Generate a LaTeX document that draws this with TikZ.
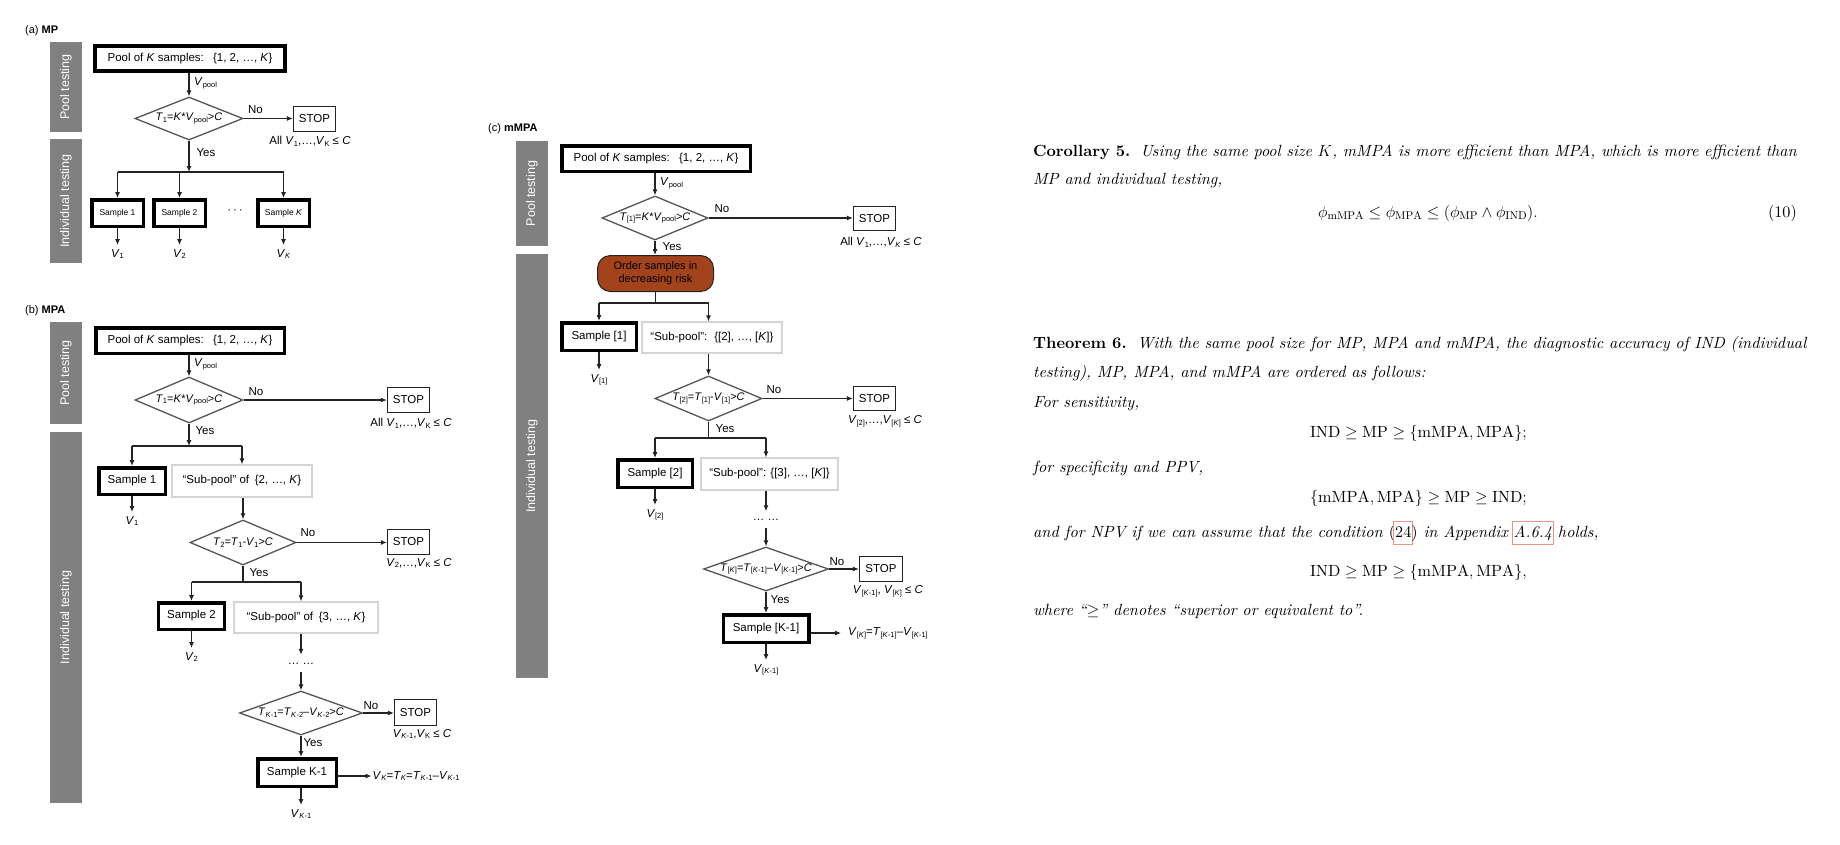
\RequirePackage{fix-cm}
\documentclass[tikz,border=0pt]{standalone}
\usepackage{fontspec}
\usepackage{graphicx}
\usetikzlibrary{shapes.geometric,arrows.meta}
\setmainfont{lmroman10-regular.otf}[BoldFont=lmroman10-bold.otf, ItalicFont=lmroman10-italic.otf, BoldItalicFont=lmroman10-bolditalic.otf]
\newfontfamily\hv{Liberation Sans}
\definecolor{barg}{RGB}{128,128,128}
\definecolor{brn}{RGB}{163,67,28}
\definecolor{dg}{RGB}{85,85,85}
\definecolor{lg}{RGB}{212,212,212}
\definecolor{lnc}{RGB}{35,35,35}
\definecolor{linkred}{RGB}{232,150,130}
\newcommand\sbx[1]{\raisebox{-0.3ex}{\fontsize{7.5}{8}\selectfont #1}}
\newcommand\lnk[1]{\makebox[0pt][l]{\hspace{-1.8pt}\textcolor{linkred}{\setlength{\fboxsep}{1pt}\setlength{\fboxrule}{0.8pt}\fbox{\phantom{\strut #1}}}}#1}
\begin{document}
\begin{tikzpicture}[x=1pt,y=-1pt,
  ff/.style={font=\hv\fontsize{11.5}{13.5}\selectfont},
  df/.style={font=\hv\fontsize{11}{13}\selectfont},
  sf/.style={font=\hv\fontsize{8.5}{10}\selectfont},
  thickbox/.style={draw=black, line width=3.5pt, inner sep=0pt, align=center},
  stopbox/.style={draw=lnc, line width=1.2pt, inner sep=0pt, minimum width=42pt, minimum height=25pt, ff},
  subbox/.style={draw=lg, line width=1.2pt, inner sep=0pt, ff},
  dia/.style={diamond, draw=dg, line width=1.3pt, inner sep=0pt, df},
  bar/.style={fill=barg, rotate=90, inner sep=0pt, minimum height=32pt, text=white, font=\hv\fontsize{12.5}{14}\selectfont},
  arr/.style={draw=lnc, line width=1.1pt, -{Latex[length=6pt,width=5pt]}},
  ln/.style={draw=lnc, line width=1.1pt},
  lbl/.style={inner sep=0pt, ff},
  vl/.style={inner sep=4pt, anchor=north, ff},
  rt/.style={inner sep=0pt, anchor=base west, font=\fontsize{16.2}{20}\selectfont},
  ]
\useasboundingbox (0,0) rectangle (1840,844);
\fill[white] (0,0) rectangle (1840,844);

% ================= (a) MP =================
\node[lbl, anchor=base west, font=\hv\fontsize{11}{13}\selectfont] (labA) at (25,33) {(a) \textbf{MP}};
\node[bar, minimum width=90pt] (barA1) at (66,87) {Pool testing};
\node[bar, minimum width=124pt] (barA2) at (66,201) {Individual testing};
\node[thickbox, ff, minimum width=190pt, minimum height=25pt] (poolA) at (190,58.5) {Pool of \textit{K} samples:\hspace{0.8em}\{1, 2, …, \textit{K}\}};
\node[dia, aspect=2.51, minimum width=108pt, minimum height=43pt] (diaA) at (189,118.5) {\textit{T}\sbx{1}=\textit{K}*\textit{V}\sbx{pool}>\textit{C}};
\draw[arr] (diaA.north |- poolA.south) -- (diaA.north);
\node[lbl, anchor=west] (vpA) at (194,83) {\textit{V}\sbx{pool}};
\node[stopbox] (stopA) at (314.5,119) {STOP};
\draw[arr] (diaA.east) -- (diaA.east -| stopA.west);
\node[lbl] (noA) at (255.5,110) {No};
\node[lbl] (allA) at (310,141) {All \textit{V}\sbx{1},…,\textit{V}\sbx{K} ≤ \textit{C}};
\coordinate (brA) at (189,172);
\draw[arr] (diaA.south) -- (brA);
\node[lbl] (yesA) at (206,153) {Yes};
\node[thickbox, sf, minimum width=51.5pt, minimum height=26.5pt] (sA1) at (117.5,213) {Sample 1};
\node[thickbox, sf, minimum width=51.5pt, minimum height=26.5pt] (sA2) at (179.5,213) {Sample 2};
\node[thickbox, sf, minimum width=51.5pt, minimum height=26.5pt] (sAK) at (283.5,213) {Sample \textit{K}};
\node[lbl] (dotsA) at (235,212) {·\,·\,·};
\draw[ln] (sA1.north |- brA) -- (sAK.north |- brA);
\foreach \s in {sA1,sA2,sAK} \draw[arr] (\s.north |- brA) -- (\s.north);
\node[vl] (vA1) at (117.5,245) {\textit{V}\sbx{1}};
\node[vl] (vA2) at (179.5,245) {\textit{V}\sbx{2}};
\node[vl] (vAK) at (283.5,245) {\textit{V}\sbx{\textit{K}}};
\draw[arr] (sA1) -- (vA1);
\draw[arr] (sA2) -- (vA2);
\draw[arr] (sAK) -- (vAK);

% ================= (b) MPA =================
\node[lbl, anchor=base west, font=\hv\fontsize{11}{13}\selectfont] (labB) at (25,313) {(b) \textbf{MPA}};
\node[bar, minimum width=102pt] (barB1) at (66,373) {Pool testing};
\node[bar, minimum width=371pt] (barB2) at (66,617.5) {Individual testing};
\node[thickbox, ff, minimum width=188.5pt, minimum height=25.5pt] (poolB) at (190,340.5) {Pool of \textit{K} samples:\hspace{0.8em}\{1, 2, …, \textit{K}\}};
\node[dia, aspect=2.35, minimum width=108pt, minimum height=46pt] (diaB1) at (189,400) {\textit{T}\sbx{1}=\textit{K}*\textit{V}\sbx{pool}>\textit{C}};
\draw[arr] (diaB1.north |- poolB.south) -- (diaB1.north);
\node[lbl, anchor=west] (vpB) at (194,364) {\textit{V}\sbx{pool}};
\node[stopbox] (stopB1) at (408.5,400) {STOP};
\draw[arr] (diaB1.east) -- (diaB1.east -| stopB1.west);
\node[lbl] (noB1) at (256,392) {No};
\node[lbl] (allB1) at (411,423) {All \textit{V}\sbx{1},…,\textit{V}\sbx{K} ≤ \textit{C}};
\coordinate (brB1) at (189,446);
\draw[arr] (diaB1.south) -- (brB1);
\node[lbl] (yesB1) at (205,431) {Yes};
\node[thickbox, ff, minimum width=66.5pt, minimum height=26.5pt] (sB1) at (132,481) {Sample 1};
\node[subbox, minimum width=140pt, minimum height=32pt] (spB1) at (242,481) {“Sub-pool” of\hspace{0.5em}\{2, …, \textit{K}\}};
\draw[ln] (sB1.north |- brB1) -- (spB1.north |- brB1);
\draw[arr] (sB1.north |- brB1) -- (sB1.north);
\draw[arr] (spB1.north |- brB1) -- (spB1.north);
\node[vl] (vB1) at (132,512) {\textit{V}\sbx{1}};
\draw[arr] (sB1) -- (vB1);
\node[dia, aspect=2.36, minimum width=106pt, minimum height=45pt] (diaB2) at (243,542.5) {\textit{T}\sbx{2}=\textit{T}\sbx{1}-\textit{V}\sbx{1}>\textit{C}};
\draw[arr] (spB1.south -| diaB2.north) -- (diaB2.north);
\node[stopbox] (stopB2) at (408.5,542) {STOP};
\draw[arr] (diaB2.east) -- (diaB2.east -| stopB2.west);
\node[lbl] (noB2) at (308,533) {No};
\node[lbl] (allB2) at (419,563) {\textit{V}\sbx{2},…,\textit{V}\sbx{K} ≤ \textit{C}};
\coordinate (brB2) at (243,582);
\coordinate (brB2r) at (301,582);
\draw[ln] (diaB2.south) -- (brB2);
\node[lbl] (yesB2) at (259,573) {Yes};
\node[thickbox, ff, minimum width=66pt, minimum height=26.5pt] (sB2) at (191.5,616) {Sample 2};
\node[subbox, minimum width=144pt, minimum height=31pt] (spB2) at (306,617.5) {“Sub-pool” of\hspace{0.5em}\{3, …, \textit{K}\}};
\draw[ln] (sB2.north |- brB2) -- (brB2r);
\draw[arr] (sB2.north |- brB2) -- (sB2.north);
\draw[arr] (brB2r) -- (brB2r |- spB2.north);
\node[vl] (vB2) at (191.5,648) {\textit{V}\sbx{2}};
\draw[arr] (sB2) -- (vB2);
\node[inner sep=0pt, minimum height=17pt, ff] (dotsB) at (301,663.5) {…\ …};
\draw[arr] (brB2r |- spB2.south) -- (dotsB.north);
\node[dia, aspect=2.8, minimum width=123pt, minimum height=44pt] (diaB3) at (301,713) {\textit{T}\sbx{\textit{K}-1}=\textit{T}\sbx{\textit{K}-2}–\textit{V}\sbx{\textit{K}-2}>\textit{C}};
\draw[arr] (dotsB.south) -- (diaB3.north);
\node[stopbox, minimum height=26pt] (stopB3) at (415.5,712.5) {STOP};
\draw[arr] (diaB3.east) -- (diaB3.east -| stopB3.west);
\node[lbl] (noB3) at (371,706) {No};
\node[lbl] (allB3) at (422,734) {\textit{V}\sbx{\textit{K}-1},\textit{V}\sbx{K} ≤ \textit{C}};
\node[lbl] (yesB3) at (313,743) {Yes};
\node[thickbox, ff, minimum width=78.5pt, minimum height=27.5pt] (sBK) at (297,772.5) {Sample K-1};
\draw[arr] (diaB3.south) -- (diaB3.south |- sBK.north);
\node[lbl, anchor=west, inner sep=1pt] (vBK) at (371.5,776) {\textit{V}\sbx{\textit{K}}=\textit{T}\sbx{\textit{K}}=\textit{T}\sbx{\textit{K}-1}–\textit{V}\sbx{\textit{K}-1}};
\draw[arr] (vBK.west -| sBK.east) -- (vBK.west);
\node[vl] (vBK1) at (301,805) {\textit{V}\sbx{\textit{K}-1}};
\draw[arr] (vBK1.north |- sBK.south) -- (vBK1.north);

% ================= (c) mMPA =================
\node[lbl, anchor=base west, font=\hv\fontsize{11}{13}\selectfont] (labC) at (488,131) {(c) \textbf{mMPA}};
\node[bar, minimum width=105pt] (barC1) at (532,193.5) {Pool testing};
\node[bar, minimum width=424pt] (barC2) at (532,466) {Individual testing};
\node[thickbox, ff, minimum width=188.5pt, minimum height=25.5pt] (poolC) at (656,158.5) {Pool of \textit{K} samples:\hspace{0.8em}\{1, 2, …, \textit{K}\}};
\node[dia, aspect=2.41, minimum width=106pt, minimum height=44pt] (diaC1) at (655,218) {\textit{T}\sbx{[1]}=\textit{K}*\textit{V}\sbx{pool}>\textit{C}};
\draw[arr] (diaC1.north |- poolC.south) -- (diaC1.north);
\node[lbl, anchor=west] (vpC) at (660,183) {\textit{V}\sbx{pool}};
\node[stopbox, minimum height=24pt] (stopC1) at (874.5,218.5) {STOP};
\draw[arr] (diaC1.east) -- (diaC1.east -| stopC1.west);
\node[lbl] (noC1) at (722,209) {No};
\node[lbl] (allC1) at (881,242) {All \textit{V}\sbx{1},…,\textit{V}\sbx{\textit{K}} ≤ \textit{C}};
\node[draw=lnc, line width=1pt, fill=brn, rounded corners=13pt, inner sep=0pt, minimum width=116pt, minimum height=36pt, align=center, font=\hv\fontsize{11}{13}\selectfont] (orderC) at (655.5,273.5) {Order samples in\\decreasing risk};
\draw[arr] (diaC1.south) -- (diaC1.south |- orderC.north);
\node[lbl] (yesC1) at (672,247) {Yes};
\coordinate (brC1) at (655.5,303);
\coordinate (brC1r) at (708.5,303);
\draw[ln] (orderC.south) -- (brC1);
\node[thickbox, ff, minimum width=74.5pt, minimum height=27.5pt] (sC1) at (599,336.5) {Sample [1]};
\node[subbox, minimum width=140pt, minimum height=31pt] (spC1) at (712,337.5) {“Sub-pool”:\hspace{0.6em}\{[2], …, [\textit{K}]\}};
\draw[ln] (sC1.north |- brC1) -- (brC1r);
\draw[arr] (sC1.north |- brC1) -- (sC1.north);
\draw[arr] (brC1r) -- (brC1r |- spC1.north);
\node[vl] (vC1) at (599,370) {\textit{V}\sbx{[1]}};
\draw[arr] (sC1) -- (vC1);
\node[dia, aspect=2.38, minimum width=107pt, minimum height=45pt] (diaC2) at (708.5,398.5) {\textit{T}\sbx{[2]}=\textit{T}\sbx{[1]}-\textit{V}\sbx{[1]}>\textit{C}};
\draw[arr] (spC1.south -| diaC2.north) -- (diaC2.north);
\node[stopbox, minimum height=24pt] (stopC2) at (874.5,398.5) {STOP};
\draw[arr] (diaC2.east) -- (diaC2.east -| stopC2.west);
\node[lbl] (noC2) at (774,390) {No};
\node[lbl] (allC2) at (885,421) {\textit{V}\sbx{[2]},…,\textit{V}\sbx{[\textit{K}]} ≤ \textit{C}};
\coordinate (brC2) at (708.5,438);
\coordinate (brC2r) at (766,438);
\draw[ln] (diaC2.south) -- (brC2);
\node[lbl] (yesC2) at (725,429) {Yes};
\node[thickbox, ff, minimum width=74.5pt, minimum height=27.5pt] (sC2) at (655,473.5) {Sample [2]};
\node[subbox, minimum width=137pt, minimum height=32pt] (spC2) at (769.5,474) {“Sub-pool”: \{[3], …, [\textit{K}]\}};
\draw[ln] (sC2.north |- brC2) -- (brC2r);
\draw[arr] (sC2.north |- brC2) -- (sC2.north);
\draw[arr] (brC2r) -- (brC2r |- spC2.north);
\node[vl] (vC2) at (655,505) {\textit{V}\sbx{[2]}};
\draw[arr] (sC2) -- (vC2);
\node[inner sep=0pt, minimum height=16pt, ff] (dotsC) at (766,519.5) {…\ …};
\draw[arr] (brC2r |- spC2.south) -- (dotsC.north);
\node[dia, aspect=2.84, minimum width=125pt, minimum height=44pt] (diaC3) at (766,569) {\textit{T}\sbx{[\textit{K}]}=\textit{T}\sbx{[\textit{K}-1]}–\textit{V}\sbx{[\textit{K}-1]}>\textit{C}};
\draw[arr] (dotsC.south) -- (diaC3.north);
\node[stopbox, minimum width=43pt] (stopC3) at (881,569) {STOP};
\draw[arr] (diaC3.east) -- (diaC3.east -| stopC3.west);
\node[lbl] (noC3) at (837,562) {No};
\node[lbl] (allC3) at (888,591) {\textit{V}\sbx{[\textit{K}-1]}, \textit{V}\sbx{[\textit{K}]} ≤ \textit{C}};
\node[lbl] (yesC3) at (780,600) {Yes};
\node[thickbox, ff, minimum width=85.5pt, minimum height=27.5pt] (sCK) at (766,628.5) {Sample [K-1]};
\draw[arr] (diaC3.south) -- (diaC3.south |- sCK.north);
\node[lbl, anchor=west, inner xsep=7pt] (vCK) at (841,633) {\textit{V}\sbx{[\textit{K}]}=\textit{T}\sbx{[\textit{K}-1]}–\textit{V}\sbx{[\textit{K}-1]}};
\draw[arr] (vCK.west -| sCK.east) -- (vCK.west);
\node[vl] (vCK1) at (766,660) {\textit{V}\sbx{[\textit{K}-1]}};
\draw[arr] (vCK1.north |- sCK.south) -- (vCK1.north);

% ================= Right text =================
\node[rt] (c1) at (1033,156) {\makebox[764pt][s]{\textbf{Corollary 5.}\ \ \textit{Using the same pool size $K$, mMPA is more efficient than MPA, which is more efficient than}}};
\node[rt] (c2) at (1033,184) {\textit{MP and individual testing,}};
\node[rt, anchor=base] (ceq) at (1428,217) {$\phi_{\mathrm{mMPA}}\leq\phi_{\mathrm{MPA}}\leq(\phi_{\mathrm{MP}}\wedge\phi_{\mathrm{IND}}).$};
\node[rt, anchor=base east] (cnum) at (1797,217) {(10)};

\node[rt] (t1) at (1033,348) {\makebox[774pt][s]{\textbf{Theorem 6.}\ \ \textit{With the same pool size for MP, MPA and mMPA, the diagnostic accuracy of IND (individual}}};
\node[rt] (t2) at (1033,377) {\textit{testing), MP, MPA, and mMPA are ordered as follows:}};
\node[rt] (t3) at (1033,407) {\textit{For sensitivity,}};
\node[rt, anchor=base] (t4) at (1418.5,437) {$\mathrm{IND}\geq\mathrm{MP}\geq\{\mathrm{mMPA},\mathrm{MPA}\};$};
\node[rt] (t5) at (1033,472) {\textit{for specificity and PPV,}};
\node[rt, anchor=base] (t6) at (1418.5,502) {$\{\mathrm{mMPA},\mathrm{MPA}\}\geq\mathrm{MP}\geq\mathrm{IND};$};
\node[rt] (t7) at (1033,537) {\textit{and for NPV if we can assume that the condition \textup{(\lnk{24})} in Appendix \lnk{A.6.4} holds,}};
\node[rt, anchor=base] (t8) at (1418.5,576) {$\mathrm{IND}\geq\mathrm{MP}\geq\{\mathrm{mMPA},\mathrm{MPA}\},$};
\node[rt] (t9) at (1033,615) {\textit{where “$\geq$” denotes “superior or equivalent to”.}};
\end{tikzpicture}
\end{document}
